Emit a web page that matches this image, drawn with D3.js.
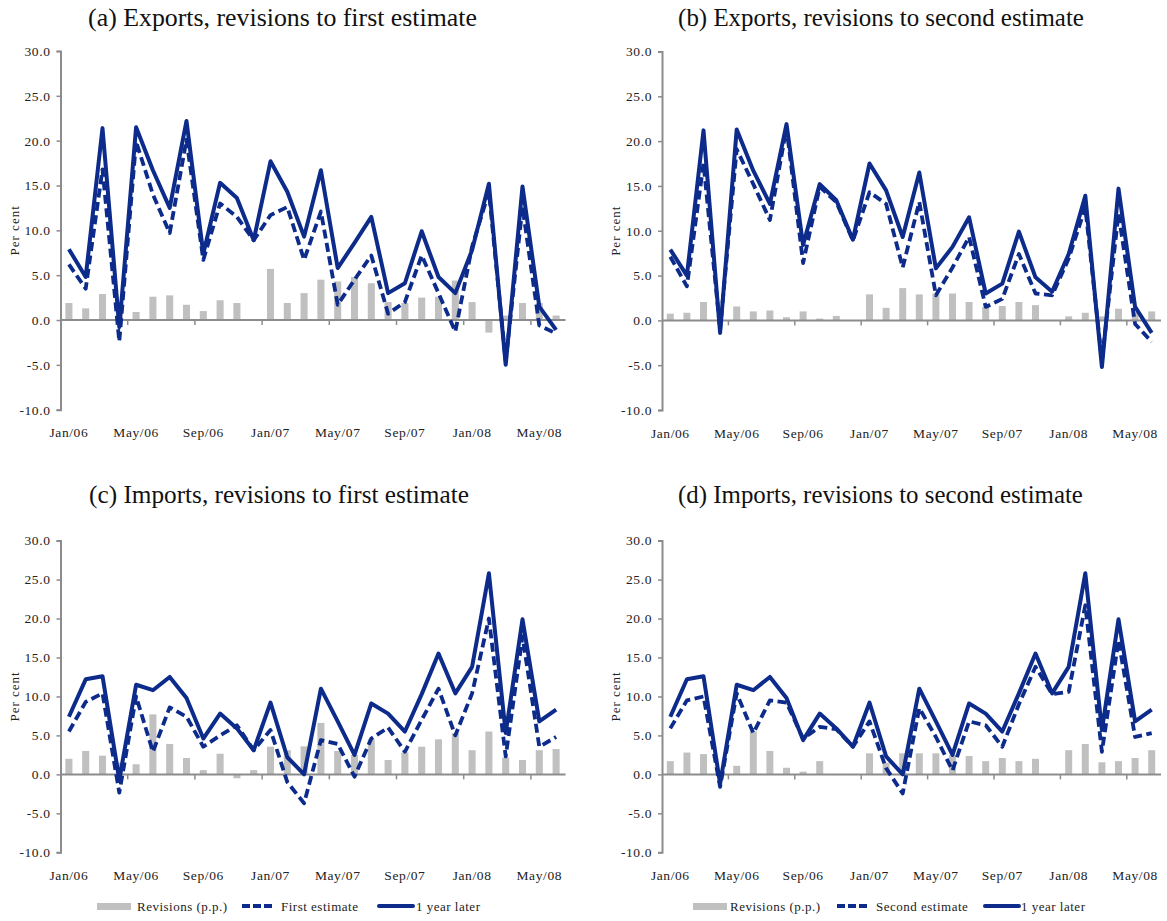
<!DOCTYPE html>
<html>
<head>
<meta charset="utf-8">
<script src="https://cdn.jsdelivr.net/npm/d3@7"></script>
<style>
  html, body { margin: 0; padding: 0; background: #ffffff; }
  svg { display: block; }
</style>
</head>
<body>
<script>
// ---------------- DATA ----------------
const months = ["Jan/06","Feb/06","Mar/06","Apr/06","May/06","Jun/06","Jul/06","Aug/06","Sep/06","Oct/06","Nov/06","Dec/06",
                "Jan/07","Feb/07","Mar/07","Apr/07","May/07","Jun/07","Jul/07","Aug/07","Sep/07","Oct/07","Nov/07","Dec/07",
                "Jan/08","Feb/08","Mar/08","Apr/08","May/08","Jun/08"];
const xTickLabels = ["Jan/06","May/06","Sep/06","Jan/07","May/07","Sep/07","Jan/08","May/08"];
const yTicks = [-10, -5, 0, 5, 10, 15, 20, 25, 30];

// (a) Exports, revisions to first estimate
const expRevFirst   = [1.9, 1.3, 2.9, 1.0, 0.9, 2.6, 2.75, 1.7, 1.0, 2.2, 1.9, -0.1, 5.7, 1.9, 3.0, 4.5, 4.3, 4.8, 4.1, 2.0, 1.9, 2.5, 2.6, 4.4, 2.0, -1.4, 0.5, 1.9, 1.9, 0.5];
const expFirst      = [6.2, 3.5, 16.8, -2.4, 19.9, 14.0, 9.7, 20.1, 6.7, 13.0, 11.5, 8.9, 11.7, 12.6, 6.7, 12.1, 1.7, 4.5, 7.2, 0.7, 2.0, 7.2, 3.0, -1.3, 8.2, 14.3, -4.6, 12.6, -0.6, -1.5];
const expLaterA     = [7.9, 4.8, 21.4, -0.8, 21.5, 16.7, 12.5, 22.2, 7.4, 15.3, 13.6, 8.9, 17.7, 14.3, 9.3, 16.7, 5.8, 8.6, 11.5, 3.0, 4.1, 9.9, 4.8, 3.0, 7.8, 15.2, -5.0, 14.9, 1.5, -1.1];

// (b) Exports, revisions to second estimate
const expRevSecond  = [0.75, 0.85, 2.05, 0, 1.55, 1.0, 1.1, 0.35, 1.0, 0.2, 0.5, 0, 2.9, 1.4, 3.6, 2.9, 3.0, 3.0, 2.05, 1.5, 1.6, 2.05, 1.7, 0, 0.45, 0.85, 0.45, 1.3, 0.9, 1.0];
const expSecond     = [7.1, 3.8, 17.5, -1.0, 19.1, 15.2, 11.2, 21.5, 6.4, 14.9, 13.2, 8.9, 14.3, 13.0, 5.9, 13.2, 2.8, 5.9, 9.3, 1.5, 2.4, 7.4, 3.0, 2.8, 6.9, 12.6, -4.5, 11.9, -0.4, -2.4];
const expLaterB     = [7.9, 5.0, 21.2, -1.4, 21.3, 16.7, 13.0, 21.9, 8.4, 15.2, 13.4, 9.0, 17.5, 14.5, 9.3, 16.5, 5.8, 8.2, 11.5, 3.0, 4.1, 9.9, 4.8, 3.2, 7.4, 13.9, -5.2, 14.7, 1.5, -1.4];

// (c) Imports, revisions to first estimate
const impRevFirst   = [2.0, 3.0, 2.4, 1.5, 1.3, 7.7, 3.9, 2.1, 0.55, 2.65, -0.5, 0.55, 3.55, 3.1, 3.6, 6.6, 3.0, 2.5, 4.5, 1.85, 2.8, 3.55, 4.5, 5.3, 3.1, 5.5, 2.15, 1.85, 3.1, 3.25];
const impFirst      = [5.5, 9.3, 10.4, -2.35, 10.0, 2.9, 8.6, 7.4, 3.55, 5.0, 6.3, 3.1, 5.7, -1.0, -3.7, 4.4, 3.9, -0.3, 4.6, 6.0, 2.9, 7.0, 11.0, 5.0, 10.4, 20.0, 2.3, 17.7, 3.55, 4.8];
const impLaterC     = [7.4, 12.2, 12.6, -0.7, 11.5, 10.8, 12.5, 9.8, 4.6, 7.8, 5.9, 3.1, 9.2, 2.2, 0.0, 11.0, 6.8, 2.5, 9.1, 7.8, 5.5, 10.3, 15.5, 10.4, 13.8, 25.8, 5.3, 19.9, 6.8, 8.3];

// (d) Imports, revisions to second estimate
const impRevSecond  = [1.7, 2.8, 2.6, 0.4, 1.1, 5.5, 3.0, 0.85, 0.35, 1.7, -0.1, -0.1, 2.7, 1.5, 2.7, 2.7, 2.7, 2.5, 2.35, 1.7, 2.1, 1.7, 2.0, 0, 3.1, 3.9, 1.55, 1.7, 2.1, 3.1];
const impSecond     = [5.9, 9.5, 10.0, -1.6, 10.4, 5.3, 9.5, 9.2, 4.6, 6.1, 5.8, 3.55, 6.8, 0.8, -2.45, 8.5, 4.8, 0.5, 6.8, 6.3, 3.55, 9.0, 13.8, 10.3, 10.6, 21.7, 2.9, 17.2, 4.8, 5.3];
const impLaterD     = [7.4, 12.2, 12.6, -1.2, 11.5, 10.8, 12.5, 9.8, 4.4, 7.8, 5.9, 3.55, 9.2, 2.3, 0.0, 11.0, 6.8, 2.5, 9.1, 7.8, 5.5, 10.4, 15.5, 10.4, 13.8, 25.8, 5.7, 19.9, 6.8, 8.3];

const titles = ["(a) Exports, revisions to first estimate",
                "(b) Exports, revisions to second estimate",
                "(c) Imports, revisions to first estimate",
                "(d) Imports, revisions to second estimate"];
const legendLeft  = ["Revisions (p.p.)", "First estimate", "1 year later"];
const legendRight = ["Revisions (p.p.)", "Second estimate", "1 year later"];

// ---------------- STYLE ----------------
const BLUE = "#0c2b8a";
const BAR = "#c0c0c0";
const AXIS = "#8c8c8c";
const SERIF = "Liberation Serif, DejaVu Serif, serif";

const svg = d3.select("body").append("svg").attr("width", 1167).attr("height", 921);

function drawPanel(cfg) {
  const x = d3.scaleBand().domain(months)
      .range([cfg.x0, cfg.x0 + months.length * cfg.step])
      .paddingInner(0.58).paddingOuter(0.29);
  const y = d3.scaleLinear().domain([-10, 30]).range([cfg.yb, cfg.yt]);
  const g = svg.append("g");

  // title
  const t = g.append("text").text(cfg.title)
    .attr("x", cfg.tx).attr("y", cfg.ty).attr("text-anchor", "middle")
    .attr("font-family", SERIF).attr("font-size", 21).attr("fill", "#111");
  const len = t.node().getComputedTextLength();
  t.attr("font-size", (21 * cfg.tw / len).toFixed(2));

  // bars
  g.append("g").selectAll("rect").data(cfg.bars).join("rect")
    .attr("x", (d, i) => x(months[i]))
    .attr("width", x.bandwidth())
    .attr("y", d => y(Math.max(0, d)))
    .attr("height", d => Math.abs(y(d) - y(0)))
    .attr("fill", BAR);

  // y axis
  const ya = g.append("g").attr("transform", `translate(${cfg.x0},0)`)
    .call(d3.axisLeft(y).tickValues(yTicks).tickFormat(d => d.toFixed(1)).tickSize(4).tickPadding(6));
  ya.attr("font-family", SERIF).attr("font-size", 13.5);
  ya.select(".domain").attr("stroke", AXIS).attr("stroke-width", 2);
  ya.selectAll(".tick line").attr("stroke", AXIS).attr("stroke-width", 1.5);
  ya.selectAll(".tick text").attr("fill", "#222").attr("letter-spacing", "0.6");

  // y label
  g.append("text").text("Per cent")
    .attr("transform", `translate(${cfg.ylx},${(y(30) + y(-10)) / 2}) rotate(-90)`)
    .attr("text-anchor", "middle")
    .attr("font-family", SERIF).attr("font-size", 13).attr("letter-spacing", "1")
    .attr("fill", "#222");

  // zero line
  const xEnd = x.range()[1];
  g.append("line").attr("x1", cfg.x0).attr("x2", xEnd + 1)
    .attr("y1", y(0)).attr("y2", y(0)).attr("stroke", AXIS).attr("stroke-width", 2);
  // tick marks between categories every 4 months
  const step = x.step();
  g.append("g").selectAll("line").data(d3.range(4, months.length, 4)).join("line")
    .attr("x1", k => cfg.x0 + k * step).attr("x2", k => cfg.x0 + k * step)
    .attr("y1", y(0)).attr("y2", y(0) + 5)
    .attr("stroke", AXIS).attr("stroke-width", 1.5);

  // x labels
  const xa = g.append("g").attr("transform", `translate(0,${cfg.yb})`)
    .call(d3.axisBottom(x).tickValues(xTickLabels).tickSize(0).tickPadding(18));
  xa.attr("font-family", SERIF).attr("font-size", 13.5);
  xa.select(".domain").remove();
  xa.selectAll(".tick text").attr("fill", "#222").attr("letter-spacing", "0.6");

  // lines
  const line = d3.line().x((d, i) => x(months[i]) + x.bandwidth() / 2).y(d => y(d));
  g.append("path").datum(cfg.dashed).attr("d", line)
    .attr("fill", "none").attr("stroke", BLUE).attr("stroke-width", 3.8)
    .attr("stroke-dasharray", "9,4.5").attr("stroke-linejoin", "round");
  g.append("path").datum(cfg.solid).attr("d", line)
    .attr("fill", "none").attr("stroke", BLUE).attr("stroke-width", 4)
    .attr("stroke-linejoin", "round");
}

drawPanel({ x0: 60.5, step: 16.8, yt: 51, yb: 409.7, title: titles[0], tx: 282.5, ty: 26, tw: 389,
            ylx: 19, bars: expRevFirst, dashed: expFirst, solid: expLaterA });
drawPanel({ x0: 662, step: 16.6, yt: 51.5, yb: 410, title: titles[1], tx: 881, ty: 26, tw: 406,
            ylx: 620, bars: expRevSecond, dashed: expSecond, solid: expLaterB });
drawPanel({ x0: 60.5, step: 16.8, yt: 540.6, yb: 852.3, title: titles[2], tx: 279, ty: 503, tw: 380,
            ylx: 19, bars: impRevFirst, dashed: impFirst, solid: impLaterC });
drawPanel({ x0: 662, step: 16.6, yt: 540.6, yb: 852.3, title: titles[3], tx: 880.5, ty: 503, tw: 405,
            ylx: 620, bars: impRevSecond, dashed: impSecond, solid: impLaterD });

// legends
function legend(labels, pos) {
  const g = svg.append("g");
  const ly = 906;
  g.append("rect").attr("x", pos[0]).attr("y", ly - 3).attr("width", 34).attr("height", 7).attr("fill", BAR);
  g.append("line").attr("x1", pos[2]).attr("x2", pos[2] + 32).attr("y1", ly).attr("y2", ly)
    .attr("stroke", BLUE).attr("stroke-width", 4).attr("stroke-dasharray", "8,3");
  g.append("line").attr("x1", pos[4]).attr("x2", pos[4] + 34).attr("y1", ly).attr("y2", ly)
    .attr("stroke", BLUE).attr("stroke-width", 4).attr("stroke-linecap", "round");
  [pos[1], pos[3], pos[5]].forEach((tx, i) => {
    g.append("text").text(labels[i]).attr("x", tx).attr("y", ly + 5)
      .attr("font-family", SERIF).attr("font-size", 13).attr("letter-spacing", "0.5")
      .attr("fill", "#222");
  });
}
legend(legendLeft,  [97, 137, 242, 281, 379, 416]);
legend(legendRight, [693, 730, 837, 876, 985, 1021]);
</script>
</body>
</html>
